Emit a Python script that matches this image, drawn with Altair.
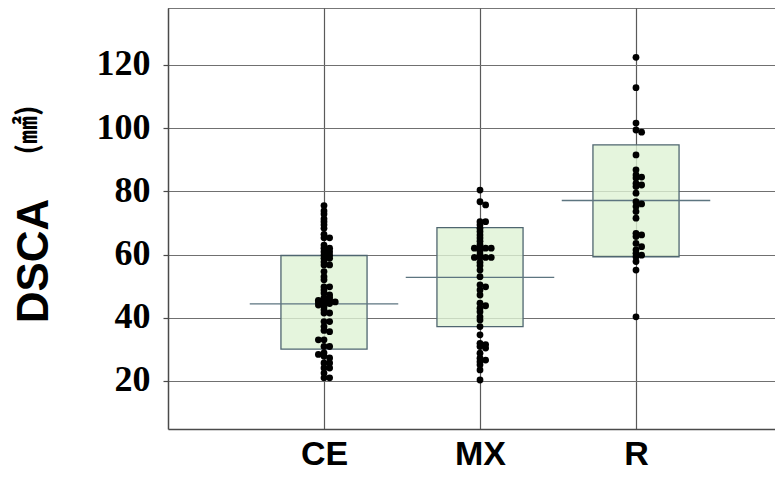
import altair as alt
import pandas as pd

groups = ["CE", "MX", "R"]

ce_vals = [75.5, 73.8, 72.8, 71.3, 70.4, 69.4, 68.3, 66.4, 65.3, 65.3,
           63.0, 62.0, 62.0, 60.9, 60.9, 59.8, 59.8, 58.8, 58.8, 57.7, 56.7, 56.7,
           54.6, 53.0, 52.0,
           49.8, 49.8, 48.8, 47.8, 47.2,
           46.3, 46.3, 45.5, 45.5, 45.5, 45.0, 45.0, 44.5, 44.5, 44.0, 44.0, 43.5,
           42.5, 41.5, 41.5,
           38.8, 38.8, 37.2, 36.0, 35.6,
           33.0, 33.0, 30.9, 30.9,
           28.9, 28.4, 27.8, 27.3,
           25.7, 25.7, 24.1, 24.1, 22.5, 21.0, 21.0]
ce_cols = [0, 0, 0, 0, 0, 0, 0, 0, 0, 1,
           0, 0, 1, 0, 1, 0, 1, 0, 1, 0, 0, 1,
           0, 0, 0,
           0, 1, 0, 0, 1,
           0, 1, -1, 0, 1, -1, 2, 0, 1, -1, 0, 0,
           0, 0, 1,
           0, 1, 0, 0, 1,
           0, -1, 0, 1,
           0, -1, 0, 1,
           0, 1, 0, 1, 0, 0, 1]

mx_vals = [80.4, 76.7, 75.7, 70.4, 70.4, 69.4,
           68.3, 67.3, 66.2, 65.2, 64.2, 63.1,
           62.0, 62.0, 62.0, 62.0, 61.0, 60.0,
           59.1, 59.1, 59.1, 59.1, 57.5, 56.5, 55.1,
           53.0, 50.4, 49.8, 48.8, 47.2,
           44.6, 43.8, 43.0, 41.9, 40.3, 39.3, 37.2,
           34.6, 31.9, 31.5, 30.9, 30.4, 28.8, 27.2, 26.6, 26.1, 25.1, 23.5, 20.3]
mx_cols = [0, 0, 1, 0, 1, 0,
           0, 0, 0, 0, 0, 0,
           -1, 0, 1, 2, 0, 0,
           -1, 0, 1, 2, 0, 0, 0,
           0, 0, 1, 0, 0,
           0, 1, 0, 0, 0, 0, 0,
           0, 0, 1, 0, 1, 0, 0, 1, 0, 0, 0, 0]

r_vals = [122.4, 112.8, 101.6, 99.4, 98.7, 91.5, 86.8, 85.2, 84.5, 84.2,
          82.5, 82.0, 81.5, 79.4, 76.7, 76.0, 75.2, 73.6, 71.5, 66.7,
          66.2, 65.7, 63.5, 62.5, 61.5, 60.4, 59.8, 59.3, 57.8, 55.1, 40.3]
r_cols = [0, 0, 0, 0, 1, 0, 0, 0, 1, 0,
          0, 1, 0, 0, 0, 1, 0, 0, 0, 0,
          1, 0, 0, 1, 0, 0, 1, 0, 0, 0, 0]

box_low = [30.1, 37.2, 59.3]
box_high = [59.7, 68.5, 94.7]
box_mid = [44.4, 52.8, 77.1]

y_ticks = [20, 40, 60, 80, 100, 120]
y_title = "DSCA"
y_unit = "(㎟)"

# ---- layout constants ----
W, H = 607, 421
XMAX = W / 156.0
YDOM = [4.8, 138.0]
COL_STEP = 0.036
BOX_HALF = 0.276
MED_HALF = 0.476

rows = []
for gi, (vals, cols) in enumerate([(ce_vals, ce_cols), (mx_vals, mx_cols), (r_vals, r_cols)]):
    for v, c in zip(vals, cols):
        rows.append({"group": groups[gi], "idx": gi + 1, "value": v, "col": c})
pts = pd.DataFrame(rows)

boxes = pd.DataFrame({"group": groups, "idx": [1, 2, 3],
                      "low": box_low, "high": box_high, "mid": box_mid})

label_arr = "[''," + ",".join("'%s'" % g for g in groups) + "]"

xaxis = alt.Axis(values=[1, 2, 3], labelExpr=label_arr + "[datum.value]",
                 grid=True, gridColor="#5a5a5a", gridWidth=1.2,
                 domainColor="#4a4a4a", domainWidth=1.5, ticks=False,
                 labelFont="Liberation Sans", labelFontWeight="bold",
                 labelFontSize=34, labelColor="#000000",
                 labelBaseline="alphabetic", labelPadding=35,
                 title=None)
yaxis = alt.Axis(values=y_ticks, grid=True, gridColor="#707070", gridWidth=1.2,
                 domainColor="#4a4a4a", domainWidth=1.5,
                 tickColor="#4a4a4a", tickSize=5, tickWidth=1.2,
                 labelFont="Liberation Serif", labelFontWeight="bold",
                 labelFontSize=36, labelColor="#000000", labelPadding=13,
                 labelBaseline="alphabetic", labelOffset=10,
                 title=None)
xscale = alt.Scale(domain=[0, XMAX], nice=False, zero=False)
yscale = alt.Scale(domain=YDOM, nice=False, zero=False)

box_layer = alt.Chart(boxes).transform_calculate(
    x1="datum.idx - %f" % BOX_HALF, x2="datum.idx + %f" % BOX_HALF
).mark_rect(fill="#dff2d5", fillOpacity=0.8, stroke="#4f6670", strokeWidth=1.3).encode(
    x=alt.X("x1:Q", scale=xscale, axis=xaxis),
    x2="x2:Q",
    y=alt.Y("low:Q", scale=yscale, axis=yaxis),
    y2="high:Q",
)

med_layer = alt.Chart(boxes).transform_calculate(
    x1="datum.idx - %f" % MED_HALF, x2="datum.idx + %f" % MED_HALF
).mark_rule(color="#5d7580", strokeWidth=1.3).encode(
    x=alt.X("x1:Q", scale=xscale, axis=xaxis),
    x2="x2:Q",
    y=alt.Y("mid:Q", scale=yscale, axis=yaxis),
)

pt_layer = alt.Chart(pts).transform_calculate(
    xpos="datum.idx + datum.col * %f" % COL_STEP
).mark_circle(color="#000000", opacity=1, size=46).encode(
    x=alt.X("xpos:Q", scale=xscale, axis=xaxis),
    y=alt.Y("value:Q", scale=yscale, axis=yaxis),
)

top_border = alt.Chart(pd.DataFrame({"k": [0]})).mark_rule(
    color="#4a4a4a", strokeWidth=1.5
).encode(x=alt.value(0), x2=alt.value(W), y=alt.value(0))

title_layer = alt.Chart(pd.DataFrame({"t": [y_title]})).mark_text(
    angle=270, font="Liberation Sans", fontWeight="bold", fontSize=44,
    color="#000000", align="center", baseline="middle"
).encode(x=alt.value(35 - 168), y=alt.value(261 - 8), text="t:N")

unit_layer = alt.Chart(pd.DataFrame({"t": [y_unit]})).mark_text(
    angle=270, font="Noto Sans CJK JP", fontWeight="bold", fontSize=28,
    color="#000000", align="center", baseline="middle"
).encode(x=alt.value(29 - 168), y=alt.value(130 - 8), text="t:N")

chart = alt.layer(box_layer, med_layer, pt_layer, top_border, title_layer, unit_layer).properties(
    width=W, height=H,
    autosize=alt.AutoSizeParams(type="none"),
    padding={"left": 160, "top": 0, "right": 0, "bottom": 42},
    background="white",
).configure_view(stroke=None)

chart.save("out.html", embed_options={"renderer": "svg", "actions": False})
